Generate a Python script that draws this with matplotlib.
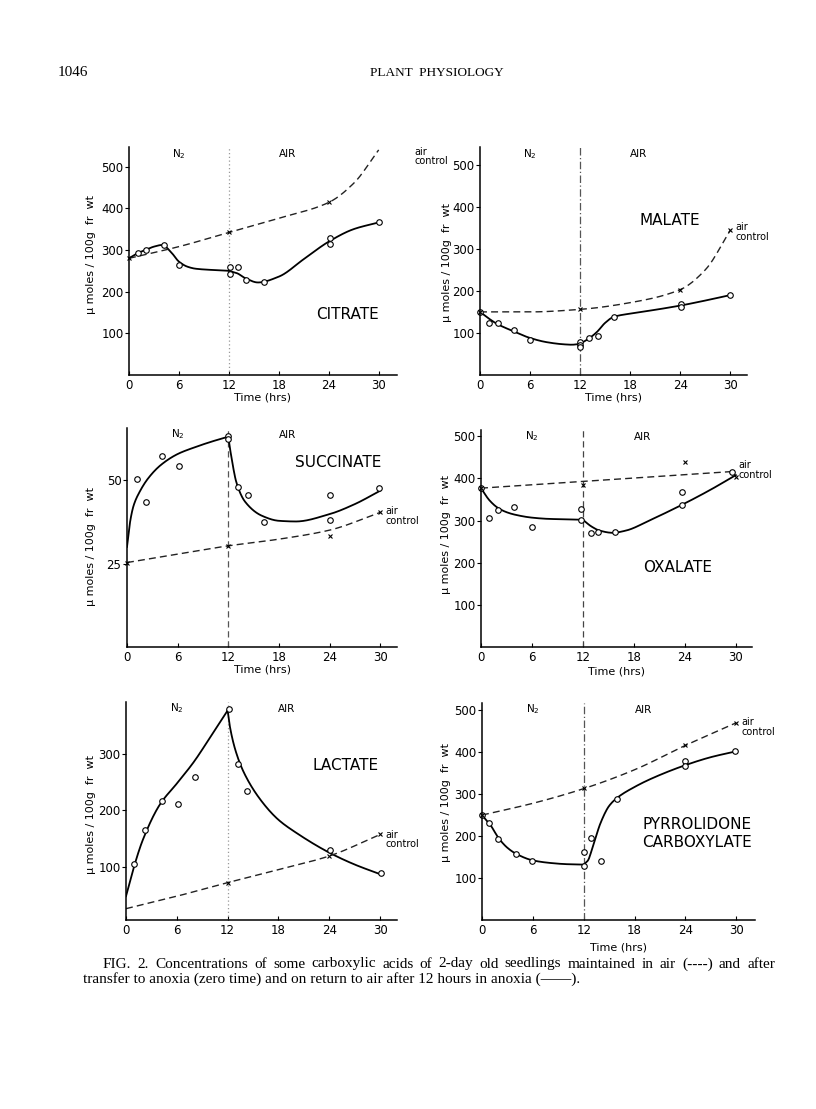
import numpy as np
import matplotlib
matplotlib.use("Agg")
import matplotlib.pyplot as plt

W, H = 816, 1109

# ---- data (time in hours, value in umoles/100g fr wt) ----
# CITRATE
cit_t = [1.1, 2.1, 4.2, 6.0, 12.1, 12.1, 13.1, 14.1, 16.2, 24.1, 24.1, 30.0]
cit_v = [292, 300, 312, 264, 258, 242, 258, 228, 224, 328, 314, 366]
cit_n2_t = [0, 1, 2, 3, 4, 5, 6, 7, 8, 10, 12]
cit_n2_v = [280, 292, 300, 308, 312, 296, 272, 260, 255, 252, 250]
cit_air_t = [12, 13, 14, 15.5, 18, 21, 24, 27, 30]
cit_air_v = [250, 244, 232, 222, 236, 278, 320, 350, 366]
cit_ctl_t = [0, 6, 12, 18, 24, 27, 30]
cit_ctl_v = [280, 308, 342, 376, 414, 460, 540]
cit_x_t = [0, 12, 24]
cit_x_v = [280, 342, 414]

# MALATE
mal_t = [0, 1.1, 2.1, 4.1, 6.0, 12.0, 12.0, 12.0, 13.1, 14.1, 16.0, 24.1, 24.1, 30.0]
mal_v = [150, 124, 124, 106, 84, 78, 72, 66, 88, 93, 139, 169, 162, 190]
mal_n2_t = [0, 1, 2, 4, 6, 8, 10, 11, 12]
mal_n2_v = [150, 135, 122, 104, 88, 78, 73, 72, 74]
mal_air_t = [12, 13, 14, 15, 16, 18, 21, 24, 27, 30]
mal_air_v = [74, 86, 102, 124, 138, 146, 155, 165, 177, 190]
mal_ctl_t = [0, 6, 12, 18, 24, 27, 30]
mal_ctl_v = [150, 150, 156, 172, 203, 250, 344]
mal_x_t = [0, 12, 24, 30]
mal_x_v = [150, 156, 203, 344]

# SUCCINATE
suc_t = [1.2, 2.2, 4.2, 6.2, 12.0, 12.0, 13.2, 14.3, 16.2, 24.1, 24.1, 29.9]
suc_v = [50.3, 43.3, 57.3, 54.3, 63.3, 62.3, 48.0, 45.5, 37.3, 45.6, 38.0, 47.5]
suc_n2_t = [0, 0.4, 0.8, 1.5, 2.5, 4, 6, 8, 10, 12]
suc_n2_v = [30, 38, 42.5, 46.5, 50.5, 54.5, 57.8, 59.8, 61.5, 63]
suc_air_t = [12, 12.3, 13, 14, 16, 18, 20, 24, 27, 30]
suc_air_v = [63, 58, 49, 43.5, 39.3, 37.8, 37.6, 39.8, 42.8, 46.8]
suc_ctl_t = [0, 6, 12, 18, 24, 30]
suc_ctl_v = [25.3, 27.8, 30.3, 32.3, 35.0, 40.3]
suc_x_t = [0, 12, 24, 30]
suc_x_v = [25.3, 30.3, 33.1, 40.3]

# OXALATE
oxa_t = [0, 1.0, 2.0, 3.9, 6.0, 11.8, 11.8, 12.9, 13.8, 15.8, 23.7, 23.7, 29.6]
oxa_v = [377, 306, 324, 332, 284, 327, 302, 270, 272, 272, 368, 336, 416]
oxa_n2_t = [0, 1, 2, 3, 4, 6, 8, 10, 12]
oxa_n2_v = [377, 348, 330, 320, 314, 307, 304, 303, 302]
oxa_air_t = [12, 13, 14, 15.5, 17, 20, 24, 27, 30]
oxa_air_v = [302, 286, 276, 271, 276, 302, 341, 373, 408]
oxa_ctl_t = [0, 30]
oxa_ctl_v = [377, 417]
oxa_x_t = [0, 12, 24, 30]
oxa_x_v = [377, 385, 440, 404]

# LACTATE
lac_t = [1.0, 2.2, 4.2, 6.1, 8.2, 12.2, 13.2, 14.3, 24.1, 30.1]
lac_v = [105, 165, 216, 211, 258, 378, 281, 234, 129, 89]
lac_n2_t = [0, 1, 2, 4, 6, 8, 10, 12]
lac_n2_v = [48, 103, 148, 210, 247, 285, 330, 376]
lac_air_t = [12, 12.3, 13, 14, 16, 18, 20, 24, 27, 30]
lac_air_v = [376, 345, 302, 264, 216, 183, 161, 125, 104, 87]
lac_ctl_t = [0, 6, 12, 18, 24, 30]
lac_ctl_v = [26, 48, 72, 95, 119, 157]
lac_x_t = [12, 24, 30]
lac_x_v = [72, 119, 157]

# PYRROLIDONE CARBOXYLATE
pyr_t = [0, 0.8, 1.9, 4.05, 5.9, 12.0, 12.0, 12.8, 14.0, 15.9, 23.9, 23.9, 29.8]
pyr_v = [250, 230, 192, 158, 140, 129, 161, 196, 140, 289, 379, 368, 402]
pyr_n2_t = [0, 1, 2, 3, 4, 6, 8, 10, 12]
pyr_n2_v = [250, 226, 194, 172, 158, 142, 136, 133, 132]
pyr_air_t = [12, 12.5, 13, 14, 15, 16, 18, 20, 24, 27, 30]
pyr_air_v = [132, 142, 170, 232, 272, 292, 317, 337, 369, 388, 402]
pyr_ctl_t = [0, 6, 12, 18, 24, 30]
pyr_ctl_v = [250, 278, 313, 358, 416, 470]
pyr_x_t = [0, 12, 24, 30]
pyr_x_v = [250, 315, 416, 470]

x_ticks = [0, 6, 12, 18, 24, 30]

caption1 = ('FIG. 2.  Concentrations of some carboxylic acids of 2-day old seedlings '
            'maintained in air (----) and after')
caption2 = 'transfer to anoxia (zero time) and on return to air after 12 hours in anoxia (——).'


def pchip(x, y, xs):
    # monotone cubic through the hand-drawn curve nodes (smooth drawing only)
    x = np.asarray(x, float)
    y = np.asarray(y, float)
    h = np.diff(x)
    d = np.diff(y) / h
    m = np.zeros_like(y)
    for k in range(1, len(x) - 1):
        if d[k - 1] * d[k] > 0:
            w1 = 2 * h[k] + h[k - 1]
            w2 = h[k] + 2 * h[k - 1]
            m[k] = (w1 + w2) / (w1 / d[k - 1] + w2 / d[k])
    m[0] = d[0]
    m[-1] = d[-1]
    i = np.clip(np.searchsorted(x, xs) - 1, 0, len(h) - 1)
    t = (xs - x[i]) / h[i]
    return ((2 * t**3 - 3 * t**2 + 1) * y[i] + (t**3 - 2 * t**2 + t) * h[i] * m[i]
            + (-2 * t**3 + 3 * t**2) * y[i + 1] + (t**3 - t**2) * h[i] * m[i + 1])


def smooth(ax, t, v, **kw):
    xs = np.linspace(t[0], t[-1], 200)
    ax.plot(xs, pchip(t, v, xs), **kw)


def justified(fig, text, x0, x1, y, **kw):
    # lay words out so the line fills x0..x1 pixels, like the printed caption
    words = text.split()
    r = fig.canvas.get_renderer()
    items = [fig.text(0, 1 - y / H, w_, ha='left', va='center', **kw) for w_ in words]
    widths = [it.get_window_extent(r).width for it in items]
    gap = (x1 - x0 - sum(widths)) / (len(words) - 1)
    x = x0
    for it, wd in zip(items, widths):
        it.set_x(x / W)
        x += wd + gap


fig = plt.figure(figsize=(W / 100, H / 100), dpi=100)
plt.rcParams['font.family'] = ['DejaVu Sans']

panels = [
    dict(name='CITRATE', pts=(cit_t, cit_v), n2=(cit_n2_t, cit_n2_v), air=(cit_air_t, cit_air_v),
         ctl=(cit_ctl_t, cit_ctl_v), xm=(cit_x_t, cit_x_v), box=(129, 397, 147, 375),
         xlim=(0, 32.2), ylim=(0, 547), yticks=[100, 200, 300, 400, 500], vls=(0, (1, 2)), vc='#999999',
         lab=(26.3, 146), airlab=(34.3, 524), ylab=(91, 255), tl=23),
    dict(name='MALATE', pts=(mal_t, mal_v), n2=(mal_n2_t, mal_n2_v), air=(mal_air_t, mal_air_v),
         ctl=(mal_ctl_t, mal_ctl_v), xm=(mal_x_t, mal_x_v), box=(480, 747, 147, 375),
         xlim=(0, 32.0), ylim=(0, 542), yticks=[100, 200, 300, 400, 500], vls=(0, (6, 2, 1, 2)), vc='#555555',
         lab=(22.7, 367), airlab=(30.6, 340), ylab=(447, 263), tl=23),
    dict(name='SUCCINATE', pts=(suc_t, suc_v), n2=(suc_n2_t, suc_n2_v), air=(suc_air_t, suc_air_v),
         ctl=(suc_ctl_t, suc_ctl_v), xm=(suc_x_t, suc_x_v), box=(127, 397, 428, 647),
         xlim=(0, 32.0), ylim=(0, 65.6), yticks=[25, 50], vls=(0, (5, 3)), vc='#555555',
         lab=(25.0, 55.4), airlab=(30.6, 39.2), ylab=(91, 547), tl=23),
    dict(name='OXALATE', pts=(oxa_t, oxa_v), n2=(oxa_n2_t, oxa_n2_v), air=(oxa_air_t, oxa_air_v),
         ctl=(oxa_ctl_t, oxa_ctl_v), xm=(oxa_x_t, oxa_x_v), box=(481, 752, 430, 647),
         xlim=(0, 31.9), ylim=(0, 515), yticks=[100, 200, 300, 400, 500], vls=(0, (5, 3)), vc='#444444',
         lab=(23.1, 188), airlab=(30.3, 420), ylab=(446, 535), tl=24),
    dict(name='LACTATE', pts=(lac_t, lac_v), n2=(lac_n2_t, lac_n2_v), air=(lac_air_t, lac_air_v),
         ctl=(lac_ctl_t, lac_ctl_v), xm=(lac_x_t, lac_x_v), box=(126, 397, 702, 920),
         xlim=(0, 32.0), ylim=(6, 391), yticks=[100, 200, 300], vls=(0, (1, 2)), vc='#999999',
         lab=(25.9, 279), airlab=(30.6, 148), ylab=(91, 815), tl=None),
    dict(name='PYRROLIDONE\nCARBOXYLATE', pts=(pyr_t, pyr_v), n2=(pyr_n2_t, pyr_n2_v), air=(pyr_air_t, pyr_air_v),
         ctl=(pyr_ctl_t, pyr_ctl_v), xm=(pyr_x_t, pyr_x_v), box=(482, 755, 703, 920),
         xlim=(0, 32.2), ylim=(0, 517), yticks=[100, 200, 300, 400, 500], vls=(0, (6, 2, 1, 2)), vc='#555555',
         lab=(25.4, 205), airlab=(30.6, 460), ylab=(446, 803), tl=27),
]

for p in panels:
    x0, x1, yt, yb = p['box']
    ax = fig.add_axes([x0 / W, 1 - yb / H, (x1 - x0) / W, (yb - yt) / H])
    ax.set_xlim(*p['xlim'])
    ax.set_ylim(*p['ylim'])
    for s in ['top', 'right']:
        ax.spines[s].set_visible(False)
    for s in ['left', 'bottom']:
        ax.spines[s].set_linewidth(1.1)
    ax.set_xticks(x_ticks)
    ax.set_yticks(p['yticks'])
    ax.tick_params(axis='x', direction='in', length=3, width=0.8, labelsize=8.5, pad=3)
    ax.tick_params(axis='y', direction='out', length=3, width=0.8, labelsize=8.5, pad=1)
    ax.patch.set_alpha(0)

    ax.axvline(12, color=p['vc'], lw=0.9, ls=p['vls'])
    smooth(ax, *p['n2'], color='black', lw=1.3)
    smooth(ax, *p['air'], color='black', lw=1.3)
    smooth(ax, *p['ctl'], color='#222222', lw=1.0, ls=(0, (5, 3)), clip_on=False)
    ax.plot(*p['pts'], 'o', ms=4, mfc='white', mec='black', mew=0.8, clip_on=False)
    ax.plot(*p['xm'], 'x', ms=3.5, color='black', mew=0.8, clip_on=False)

    ax.text(6, 0.97, r'N$_2$', transform=ax.get_xaxis_transform(), ha='center', va='center', fontsize=7.5)
    ax.text(19, 0.97, 'AIR', transform=ax.get_xaxis_transform(), ha='center', va='center', fontsize=7.5)
    ax.text(*p['lab'], p['name'], ha='center', va='center', fontsize=11, linespacing=1.25)
    ax.text(*p['airlab'], 'air\ncontrol', ha='left', va='center', fontsize=7, linespacing=0.95,
            clip_on=False)
    if p['tl'] is not None:
        ax.text(0.5, -p['tl'] / (yb - yt), 'Time (hrs)', transform=ax.transAxes, ha='center',
                va='center', fontsize=8)
    fig.text(p['ylab'][0] / W, 1 - p['ylab'][1] / H, 'μ moles / 100g  fr  wt', rotation=90,
             ha='center', va='center', fontsize=8)

serif = ['Liberation Serif', 'DejaVu Serif']
fig.text(58 / W, 1 - 73 / H, '1046', family=serif, fontsize=11, ha='left', va='center')
fig.text(437 / W, 1 - 73 / H, 'PLANT  PHYSIOLOGY', family=serif, fontsize=9.5, ha='center', va='center')
justified(fig, caption1, 103, 775, 964, family=serif, fontsize=11)
fig.text(83 / W, 1 - 979 / H, caption2, family=serif, fontsize=11, ha='left', va='center')

fig.savefig('out.png', dpi=100)
